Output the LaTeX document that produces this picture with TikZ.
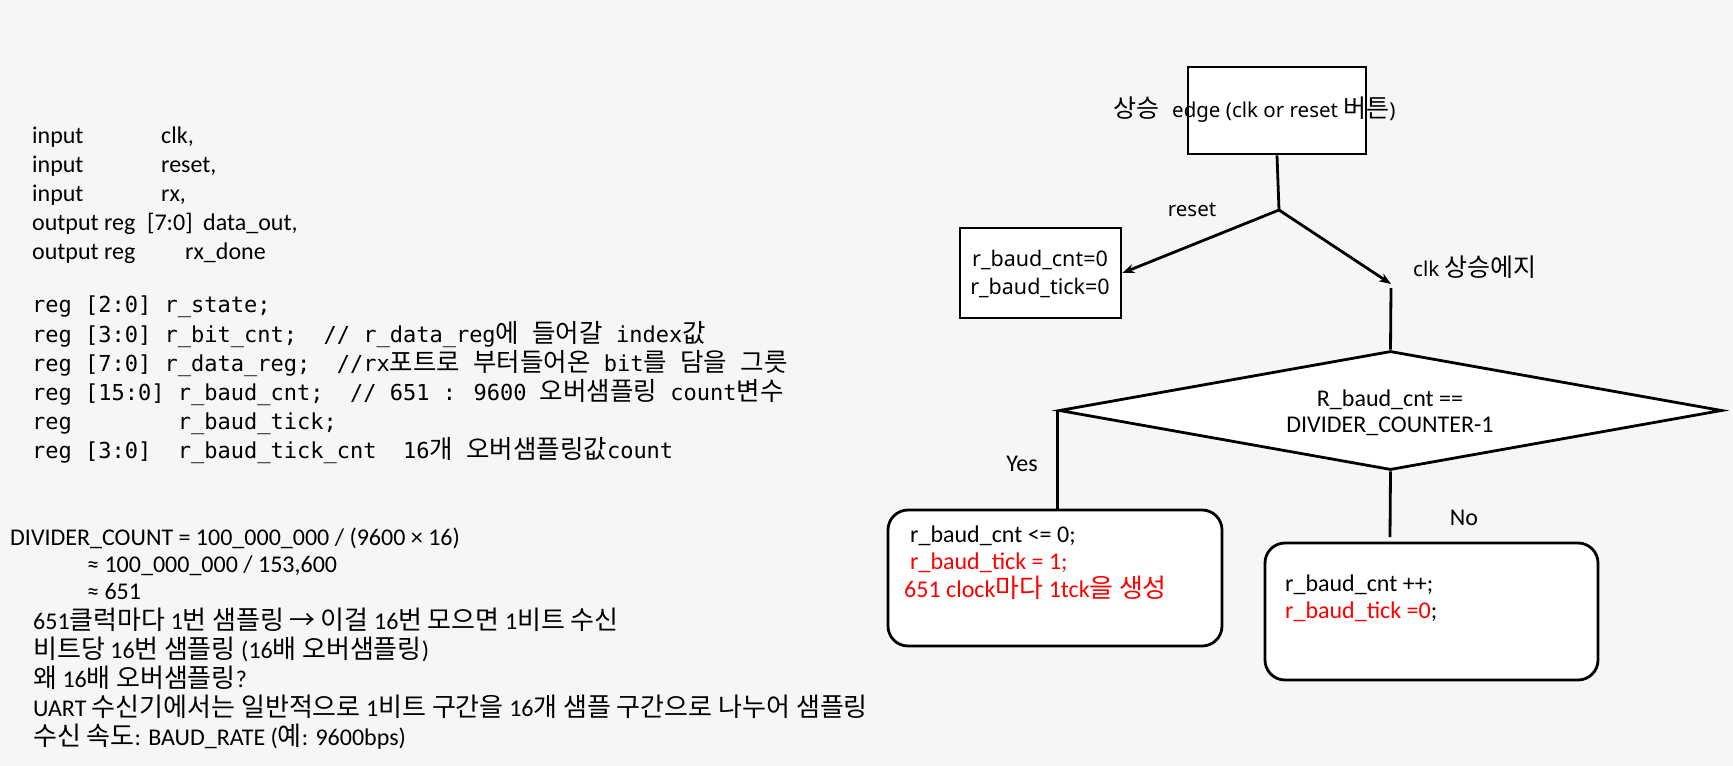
\documentclass[tikz,border=0pt]{standalone}
\usepackage{fontspec}
\setmainfont{Carlito}
\newfontfamily\krf{Noto Sans CJK KR}
\newfontfamily\monof{DejaVu Sans Mono}
\newfontfamily\segf{Noto Sans}
\usetikzlibrary{arrows.meta,shapes.geometric}
\definecolor{bg}{RGB}{246,246,246}
\definecolor{rd}{RGB}{255,0,0}
\newcommand\kr[1]{{\krf\fontsize{26}{28}\selectfont #1}}
\newcommand\krm[1]{{\krf\fontsize{25.5}{28}\selectfont #1}}
\newcommand\krs[1]{{\krf\fontsize{25}{26}\selectfont #1}}
\begin{document}
\begin{tikzpicture}[x=1pt,y=-1pt,
  txt/.style={anchor=base west, inner sep=0pt, font=\fontsize{24}{28}\selectfont},
  ctxt/.style={anchor=base, inner sep=0pt, font=\fontsize{24}{28}\selectfont},
  mono/.style={anchor=base west, inner sep=0pt, font=\monof\fontsize{22}{28}\selectfont},
  seg/.style={anchor=base west, inner sep=0pt, font=\segf\fontsize{20.5}{24}\selectfont},
  cseg/.style={anchor=base, inner sep=0pt, font=\segf\fontsize{21.5}{26}\selectfont},
  flow/.style={line width=2.8pt},
  arr/.style={flow,-{Stealth[length=12pt,width=9pt]}},
  sqbox/.style={draw, line width=2.8pt, fill=white, inner sep=0pt},
  rbox/.style={draw, line width=2.8pt, fill=white, rounded corners=20pt, inner sep=0pt},
]
\fill[bg] (0,0) rectangle (1733,766);
\useasboundingbox (0,0) rectangle (1733,766);

% ---- left: port list
\node[txt] (i1) at (32,143) {input};
\node[txt] (i1b) at (161,143) {clk,};
\node[txt] (i2) at (32,172) {input};
\node[txt] (i2b) at (161,172) {reset,};
\node[txt] (i3) at (32,201) {input};
\node[txt] (i3b) at (161,201) {rx,};
\node[txt] (o1) at (32,230) {output reg};
\node[txt] (o1b) at (147,230) {[7:0]};
\node[txt] (o1c) at (203,230) {data\_out,};
\node[txt] (o2) at (32,259) {output reg};
\node[txt] (o2b) at (185,259) {rx\_done};

% ---- left: registers
\node[mono] (m1) at (32,312) {reg [2:0] r\_state;};
\node[mono] (m2) at (32,342) {reg [3:0] r\_bit\_cnt;\ \ // r\_data\_reg\krm{에} \krm{들어갈} index\krm{값}};
\node[mono] (m3) at (32,371) {reg [7:0] r\_data\_reg;\ \ //rx\krm{포트로} \krm{부터들어온} bit\krm{를} \krm{담을} \krm{그릇}};
\node[mono] (m4) at (32,400) {reg [15:0] r\_baud\_cnt;\ \ // 651 : 9600 \krm{오버샘플링} count\krm{변수}};
\node[mono] (m5) at (32,429) {reg\ \ \ \ \ \ \ \ r\_baud\_tick;};
\node[mono] (m6) at (32,458) {reg [3:0]\ \ r\_baud\_tick\_cnt\ \ 16\krm{개} \krm{오버샘플링값}count};

% ---- left: notes
\node[txt] (n1) at (10,545) {DIVIDER\_COUNT = 100\_000\_000 / (9600 × 16)};
\node[txt] (n2) at (87,572) {≈ 100\_000\_000 / 153,600};
\node[txt] (n3) at (87,599) {≈ 651};
\node[txt] (n4) at (33,629) {651\kr{클럭마다} 1\kr{번} \kr{샘플링} \kr{→} \kr{이걸} 16\kr{번} \kr{모으면} 1\kr{비트} \kr{수신}};
\node[txt] (n5) at (33,658) {\kr{비트당} 16\kr{번} \kr{샘플링} (16\kr{배} \kr{오버샘플링})};
\node[txt] (n6) at (33,687) {\kr{왜} 16\kr{배} \kr{오버샘플링}?};
\node[txt] (n7) at (33,716) {UART \kr{수신기에서는 일반적으로} 1\kr{비트 구간을} 16\kr{개 샘플 구간으로 나누어 샘플링}};
\node[txt] (n8) at (33,745) {\kr{수신 속도}: BAUD\_RATE (\kr{예}: 9600bps)};

% ---- flowchart
\node[sqbox, minimum width=178pt, minimum height=87pt] (top) at (1277,110.5) {};
\node[seg] (toplbl) at (1113,117) {\krs{상승}\hspace{13pt}edge (clk or reset \krs{버튼})};
\coordinate (j) at (1279,210);
\node[sqbox, minimum width=161pt, minimum height=90pt] (rst) at (1040.5,273) {};
\node[cseg] (rst1) at (1040,266) {r\_baud\_cnt=0};
\node[cseg] (rst2) at (1040,294) {r\_baud\_tick=0};
\coordinate (c1) at (1391,284);
\coordinate (c2) at (1391,288);
\node[diamond, draw, line width=2.8pt, fill=white, inner sep=0pt,
      minimum width=663pt, minimum height=119pt] (dia) at (1390.5,410.5) {};
\node[ctxt] (d1) at (1390,406) {R\_baud\_cnt ==};
\node[ctxt] (d2) at (1390,432) {DIVIDER\_COUNTER-1};
\node[rbox, minimum width=334pt, minimum height=136pt] (yes) at (1055,578) {};
\node[rbox, minimum width=333pt, minimum height=137pt] (no) at (1431.5,611.5) {};
\coordinate (nend) at (1390,537);

\draw[flow] (top.south) -- (j);
\draw[arr] (j) -- (rst.east);
\draw[arr] (j) -- (c1);
\draw[flow] (c2) -- (dia.north);
\draw[flow] (dia.west) -- (dia.west |- yes.north);
\draw[flow] (dia.south) -- (nend);

\node[seg, anchor=base] (lreset) at (1192,216) {reset};
\node[seg] (lclk) at (1413,276) {clk \krs{상승에지}};
\node[ctxt] (lyes) at (1022,471) {Yes};
\node[ctxt] (lno) at (1464,525) {No};

\node[txt] (y1) at (910,542) {r\_baud\_cnt <= 0;};
\node[txt, text=rd] (y2) at (910,569) {r\_baud\_tick = 1;};
\node[txt, text=rd] (y3) at (904,597) {651 clock\kr{마다} 1tck\kr{을} \kr{생성}};
\node[txt] (no1) at (1285,591) {r\_baud\_cnt ++;};
\node[txt] (no2) at (1285,618) {\textcolor{rd}{r\_baud\_tick =0};};
\end{tikzpicture}
\end{document}
